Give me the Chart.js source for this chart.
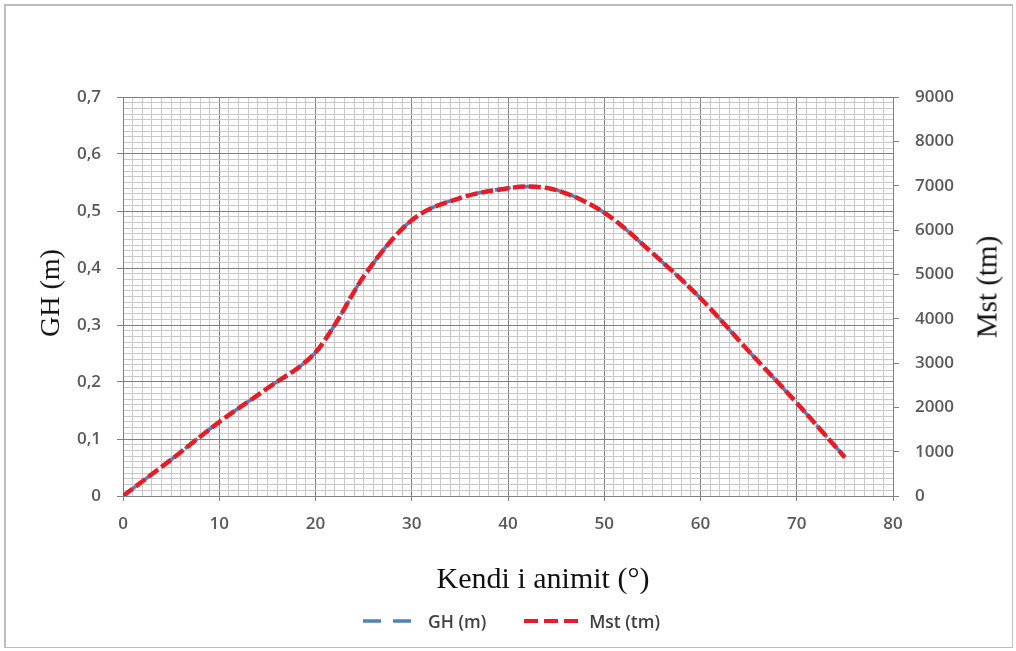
<!DOCTYPE html>
<html>
<head>
<meta charset="utf-8">
<script src="https://cdn.jsdelivr.net/npm/chart.js@4.4.1/dist/chart.umd.min.js"></script>
<style>
  body { margin: 0; background: #fff; }
  #wrap { position: relative; width: 1016px; height: 651px; overflow: hidden; }
  #frame { position: absolute; left: 4px; top: 4px; right: 3px; bottom: 3px; border: 2px solid #bdbdbd; border-right-width: 1px; border-bottom-width: 1px; }
  canvas { position: absolute; left: 0; top: 0; }
  .title { position: absolute; font-family: "Liberation Serif", "Times New Roman", serif; color: #111; white-space: nowrap; }
  #ytitle, #y1title { font-size: 28px; transform: translate(-50%, -50%) rotate(-90deg); }
  #ytitle { left: 50px; top: 293px; }
  #y1title { left: 987px; top: 287px; font-size: 29px; }
  #xtitle { left: 543px; top: 578px; font-size: 30px; transform: translate(-50%, -50%); }
  #legend { position: absolute; left: 363px; top: 609px; font-family: "Open Sans", sans-serif; font-size: 17.5px; font-weight: 600; color: #404040; display: flex; align-items: center; }
  #legend svg { margin-right: 9px; }
</style>
</head>
<body>
<div id="wrap">
  <div id="frame"></div>
  <canvas id="chart" width="1016" height="651"></canvas>
  <div class="title" id="ytitle">GH (m)</div>
  <div class="title" id="y1title">Mst (tm)</div>
  <div class="title" id="xtitle">Kendi i animit (°)</div>
  <div id="legend">
    <svg width="56" height="6"><line x1="0" y1="3" x2="56" y2="3" stroke="rgb(79,129,189)" stroke-width="3.5" stroke-dasharray="18,12"/></svg>
    <span style="margin-right:38px">GH (m)</span>
    <svg width="56" height="6"><line x1="0" y1="3" x2="56" y2="3" stroke="rgb(232,28,40)" stroke-width="4" stroke-dasharray="14,6"/></svg>
    <span>Mst (tm)</span>
  </div>
</div>
<script>
// kendi i animit (deg)
const angles = [0, 5, 10, 15, 20, 22, 25, 30, 35, 40, 42, 45, 50, 55, 60, 65, 70, 75];
// GH (m), left axis
const ghValues = [0, 0.064, 0.130, 0.189, 0.252, 0.300, 0.385, 0.484, 0.523, 0.540, 0.543, 0.537, 0.497, 0.426, 0.347, 0.254, 0.163, 0.068];
// Mst (tm), right axis
const mstValues = [0, 820, 1670, 2430, 3240, 3860, 4950, 6220, 6720, 6940, 6980, 6900, 6390, 5480, 4460, 3270, 2100, 870];

const xMajor = [0, 10, 20, 30, 40, 50, 60, 70, 80];
const leftTicks = [0, 0.1, 0.2, 0.3, 0.4, 0.5, 0.6, 0.7];
const rightTicks = [0, 1000, 2000, 3000, 4000, 5000, 6000, 7000, 8000, 9000];

const MAJOR = '#808080';
const MINOR = '#c8c8c8';
const tickFont = { family: 'Open Sans', size: 17, weight: '600' };

function toPoints(xs, ys){
    let pts = []
    for(let i=0; i<xs.length; i++){
        pts.push({x: xs[i], y: ys[i]})
    }
    return pts
}

function isMajorY(v){
    return leftTicks.some(t => Math.abs(t - v) < 1e-6)
}

const ctx = document.getElementById('chart');
new Chart(ctx, {
    type: 'line',
    data: {
        datasets: [
            {
                label: 'Mst (tm)',
                data: toPoints(angles, mstValues),
                yAxisID: 'y1',
                borderColor: 'rgb(232,28,40)',
                borderWidth: 4.5,
                borderDash: [12, 4],
                pointRadius: 0,
                cubicInterpolationMode: 'monotone',
                order: 0
            },
            {
                label: 'GH (m)',
                data: toPoints(angles, ghValues),
                yAxisID: 'y',
                borderColor: 'rgb(79,129,189)',
                borderWidth: 3.5,
                borderDash: [16, 10],
                pointRadius: 0,
                cubicInterpolationMode: 'monotone',
                order: 1
            }
        ]
    },
    options: {
        responsive: false,
        animation: false,
        layout: { padding: { top: 97, left: 0, right: 0, bottom: 0 } },
        plugins: { legend: { display: false }, tooltip: { enabled: false } },
        scales: {
            x: {
                type: 'linear',
                min: 0, max: 80,
                afterFit: s => { s.height = 155 },
                border: { color: MAJOR },
                grid: {
                    color: c => (c.tick && xMajor.includes(c.tick.value)) ? MAJOR : MINOR,
                    tickColor: c => (c.tick && xMajor.includes(c.tick.value)) ? MAJOR : 'rgba(0,0,0,0)',
                    tickLength: 5
                },
                ticks: {
                    stepSize: 1,
                    autoSkip: false,
                    maxRotation: 0,
                    padding: 13,
                    color: '#595959',
                    font: tickFont,
                    callback: v => xMajor.includes(v) ? String(v) : ''
                }
            },
            y: {
                position: 'left',
                min: 0, max: 0.7,
                afterFit: s => { s.width = 123 },
                border: { color: MAJOR },
                grid: {
                    color: c => (c.tick && isMajorY(c.tick.value)) ? MAJOR : MINOR,
                    tickColor: c => (c.tick && isMajorY(c.tick.value)) ? MAJOR : 'rgba(0,0,0,0)',
                    tickLength: 6
                },
                ticks: {
                    stepSize: 0.01,
                    autoSkip: false,
                    padding: 16,
                    color: '#595959',
                    font: tickFont,
                    callback: v => isMajorY(v) ? (v === 0 ? '0' : v.toFixed(1).replace('.', ',')) : ''
                }
            },
            y1: {
                position: 'right',
                min: 0, max: 9000,
                afterFit: s => { s.width = 123 },
                border: { color: MAJOR },
                grid: { drawOnChartArea: false, color: MAJOR, tickLength: 6 },
                ticks: {
                    stepSize: 1000,
                    autoSkip: false,
                    padding: 16,
                    color: '#595959',
                    font: tickFont,
                    callback: v => String(v)
                }
            }
        }
    }
});
</script>
</body>
</html>
